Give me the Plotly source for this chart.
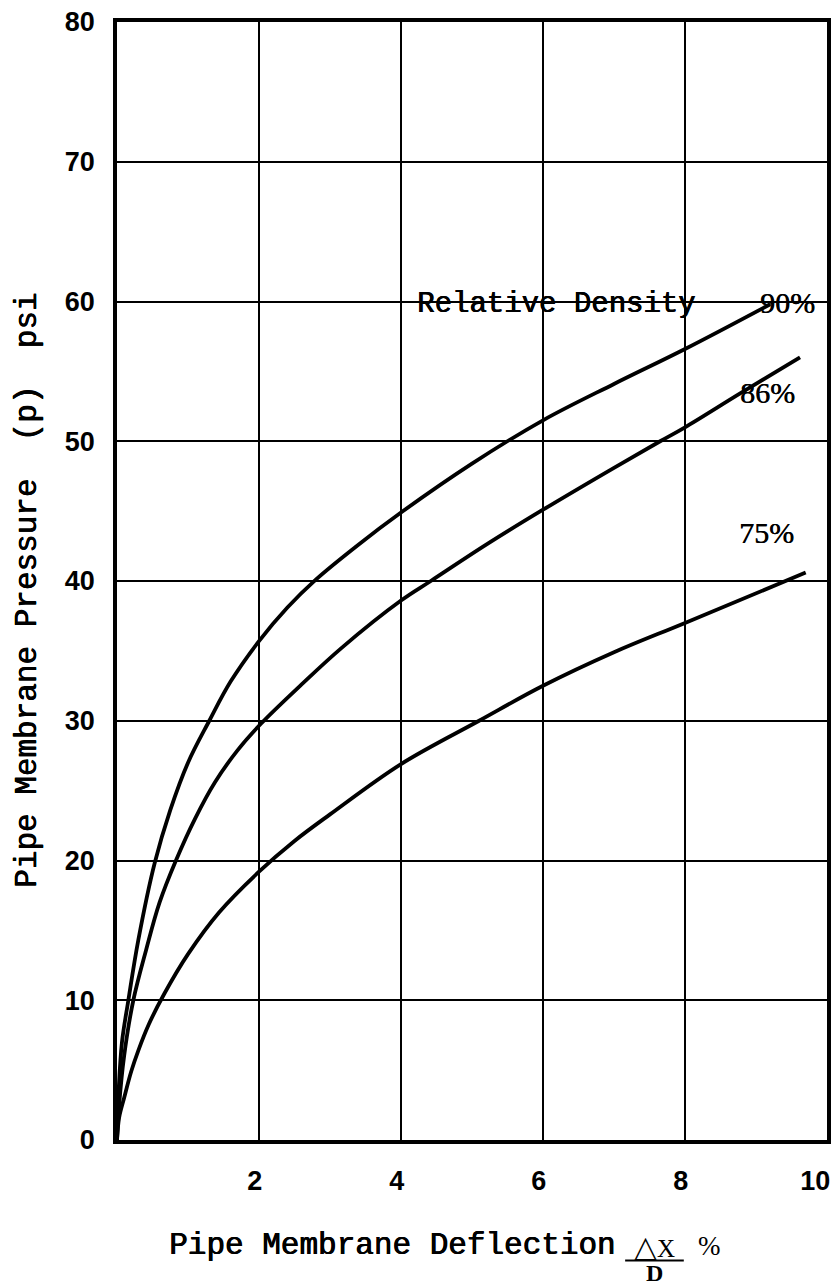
import plotly.graph_objects as go

# Pipe membrane pressure vs. deflection for three relative densities
defl_90 = [0.0, 0.02, 0.07, 0.16, 0.30, 0.53, 0.75, 1.00, 1.30, 1.60, 2.00, 2.40, 2.80, 3.40, 4.00, 5.00, 6.00, 7.00, 8.00, 9.20]
pres_90 = [0.0, 3.2, 7.0, 10.0, 14.3, 19.8, 23.6, 27.0, 30.0, 32.8, 35.7, 38.1, 40.1, 42.6, 44.9, 48.4, 51.5, 54.1, 56.6, 59.8]

defl_86 = [0.0, 0.03, 0.10, 0.23, 0.41, 0.60, 0.83, 1.10, 1.38, 1.70, 2.03, 2.60, 3.16, 4.00, 4.42, 5.20, 6.00, 7.00, 7.65, 8.00, 8.80, 9.62]
pres_86 = [0.0, 2.5, 6.0, 10.0, 13.6, 17.0, 20.0, 23.0, 25.6, 27.9, 29.8, 32.6, 35.2, 38.6, 40.0, 42.6, 45.1, 48.1, 50.0, 51.0, 53.5, 56.0]

defl_75 = [0.0, 0.03, 0.10, 0.20, 0.30, 0.45, 0.67, 1.00, 1.44, 2.00, 2.50, 3.00, 4.00, 5.10, 6.00, 7.00, 8.00, 9.70]
pres_75 = [0.0, 1.6, 3.0, 4.9, 6.4, 8.3, 10.5, 13.3, 16.3, 19.2, 21.4, 23.3, 26.9, 30.0, 32.5, 34.9, 37.0, 40.6]

x_ticks = [2, 4, 6, 8, 10]
y_ticks = [0, 10, 20, 30, 40, 50, 60, 70, 80]

curve_labels = ["90%", "86%", "75%"]
label_x = [9.44, 9.16, 9.15]
label_y = [59.9, 53.5, 43.5]

W, H = 838, 1287
L, R, T, B = 117, 7, 17, 147
PW, PH = W - L - R, H - T - B


def paper(px, py):
    """Pixel position on the page -> paper coordinates."""
    return (px - L) / PW, (H - B - py) / PH


MONO = "Liberation Mono, Courier New, monospace"
SERIF = "Liberation Serif, Times New Roman, serif"
SANS = "Liberation Sans, Arial, sans-serif"
# slightly heavier typewriter strokes
INK = "0.7px 0px 0px black, 0px 0.4px 0px black"

fig = go.Figure()
for xs, ys in [(defl_90, pres_90), (defl_86, pres_86), (defl_75, pres_75)]:
    fig.add_trace(go.Scatter(
        x=xs, y=ys, mode="lines",
        line=dict(color="black", width=3.8, shape="spline", smoothing=1.0),
        hoverinfo="skip", showlegend=False,
    ))

annotations = []
# curve labels
annotations.append(dict(x=6.19, y=59.75, xref="x", yref="y", text="Relative Density",
                        showarrow=False, font=dict(family=MONO, size=29, color="black", shadow=INK),
                        xanchor="center", yanchor="middle"))
for t, lx, ly in zip(curve_labels, label_x, label_y):
    annotations.append(dict(x=lx, y=ly, xref="x", yref="y", text=t, showarrow=False,
                            font=dict(family=SERIF, size=30, color="black", shadow="0.4px 0px 0px black"),
                            xanchor="center", yanchor="middle"))

# y-axis title
ax, ay = paper(27, 588)
annotations.append(dict(x=ax, y=ay, xref="paper", yref="paper",
                        text="Pipe Membrane Pressure  (p)  psi", textangle=-90,
                        showarrow=False, font=dict(family=MONO, size=31, color="black", shadow=INK),
                        xanchor="center", yanchor="middle"))

# x-axis title with the ΔX / D fraction
tx, ty = paper(167, 1246)
annotations.append(dict(x=tx, y=ty, xref="paper", yref="paper",
                        text="Pipe Membrane Deflection", showarrow=False,
                        font=dict(family=MONO, size=31, color="black", shadow=INK),
                        xanchor="left", yanchor="middle"))
nx, ny = paper(658, 1247)
annotations.append(dict(x=nx, y=ny, xref="paper", yref="paper",
                        text="<span style='font-size:30px'>\u25b3</span>X", showarrow=False,
                        font=dict(family=SERIF, size=25, color="black"),
                        xanchor="center", yanchor="middle"))
dx, dy = paper(658, 1274)
annotations.append(dict(x=dx, y=dy, xref="paper", yref="paper", text="<b>D</b>", showarrow=False,
                        font=dict(family=SERIF, size=24, color="black"),
                        xanchor="center", yanchor="middle"))
px_, py_ = paper(713, 1246)
annotations.append(dict(x=px_, y=py_, xref="paper", yref="paper", text="%", showarrow=False,
                        font=dict(family=SERIF, size=27, color="black"),
                        xanchor="center", yanchor="middle"))

lx0, ly0 = paper(628, 1261)
lx1, _ = paper(687, 1261)

fig.update_layout(
    width=W, height=H,
    margin=dict(l=L, r=R, t=T, b=B),
    paper_bgcolor="white", plot_bgcolor="white",
    annotations=annotations,
    shapes=[dict(type="line", xref="paper", yref="paper", x0=lx0, x1=lx1, y0=ly0, y1=ly0,
                 line=dict(color="black", width=2))],
    xaxis=dict(
        range=[0, 10], tickvals=x_ticks, ticktext=[str(v) for v in x_ticks],
        showgrid=True, gridcolor="black", gridwidth=2,
        showline=True, linecolor="black", linewidth=3.5, mirror=True,
        zeroline=False, ticks="", ticklabelposition="outside left",
        ticklabelstandoff=14, ticklabelshift=5,
        tickfont=dict(family=SANS, size=27, color="black", weight="bold"),
        fixedrange=True,
    ),
    yaxis=dict(
        range=[0, 80], tickvals=y_ticks, ticktext=[str(v) for v in y_ticks],
        showgrid=True, gridcolor="black", gridwidth=2,
        showline=True, linecolor="black", linewidth=3.5, mirror=True,
        zeroline=False, ticks="", ticklabelstandoff=13,
        tickfont=dict(family=SANS, size=27, color="black", weight="bold"),
        fixedrange=True,
    ),
)

fig.write_html("out.html", config={"displayModeBar": False})
